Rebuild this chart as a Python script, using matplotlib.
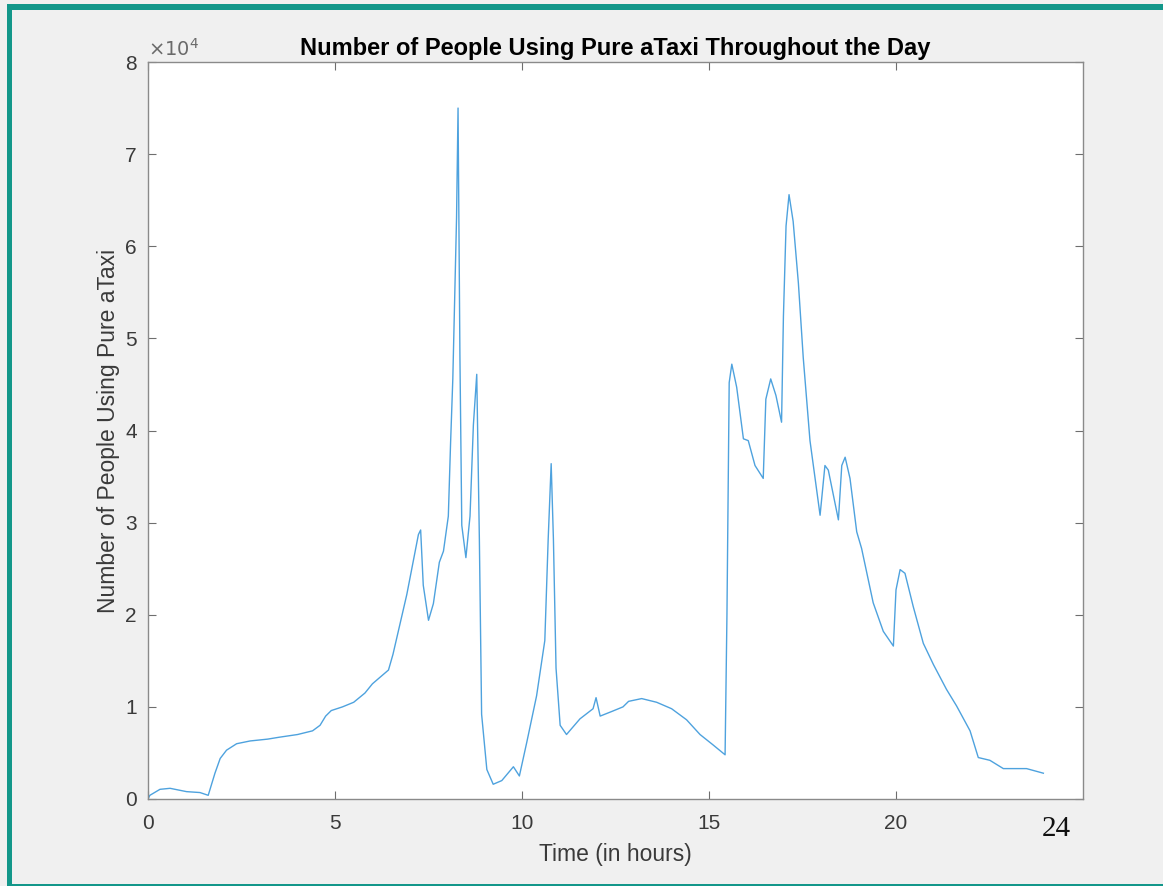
import numpy as np
import matplotlib.pyplot as plt
from matplotlib.patches import Rectangle

# Hours of day and riders
hours = [0.0, 0.05, 0.32, 0.59, 1.03, 1.39, 1.61, 1.79, 1.93, 2.10, 2.37, 2.73,
         3.2, 3.5, 4.0, 4.4, 4.6, 4.75, 4.9, 5.2, 5.5, 5.8, 6.0, 6.2, 6.43,
         6.55, 6.92, 7.23, 7.29, 7.36, 7.50, 7.63, 7.79, 7.90, 8.03, 8.09, 8.15,
         8.25, 8.29, 8.34, 8.39, 8.50, 8.61, 8.70, 8.79, 8.86, 8.92, 9.06, 9.23,
         9.46, 9.77, 9.93, 10.13, 10.39, 10.61, 10.70, 10.78, 10.84, 10.91,
         11.02, 11.19, 11.55, 11.9, 11.98, 12.09, 12.4, 12.7, 12.85, 13.2, 13.6,
         14.0, 14.4, 14.76, 15.1, 15.43, 15.48, 15.54, 15.61, 15.74, 15.92,
         16.05, 16.23, 16.45, 16.52, 16.65, 16.79, 16.94, 16.99, 17.06, 17.14,
         17.25, 17.39, 17.52, 17.70, 17.97, 18.10, 18.19, 18.46, 18.55, 18.64,
         18.77, 18.95, 19.08, 19.39, 19.66, 19.93, 20.0, 20.11, 20.24, 20.46,
         20.73, 21.0, 21.35, 21.62, 21.98, 22.20, 22.51, 22.87, 23.49, 23.94]
riders = [0, 400, 1050, 1160, 800, 700, 400, 2800, 4400, 5300, 6000, 6300,
          6500, 6700, 7000, 7400, 8000, 9000, 9600, 10000, 10500, 11500, 12500,
          13200, 14000, 15700, 22200, 28700, 29200, 23200, 19400, 21200, 25700,
          26900, 30700, 38600, 45600, 63100, 75000, 48100, 29700, 26200, 30700,
          40600, 46100, 28200, 9200, 3200, 1600, 2000, 3500, 2500, 6200, 11200,
          17200, 28200, 36400, 28200, 14200, 8000, 7000, 8700, 9800, 11000,
          9000, 9500, 10000, 10600, 10900, 10500, 9800, 8600, 7000, 5900, 4800,
          20000, 45200, 47200, 44700, 39100, 38900, 36200, 34800, 43400, 45600,
          43800, 40900, 52400, 62200, 65600, 62700, 56000, 47900, 38900, 30800,
          36200, 35700, 30300, 36200, 37100, 34800, 29000, 27200, 21300, 18200,
          16600, 22700, 24900, 24500, 20900, 16900, 14600, 11900, 10100, 7400,
          4500, 4200, 3300, 3300, 2800]

x_ticks = [0, 5, 10, 15, 20]
y_ticks = [0, 1e4, 2e4, 3e4, 4e4, 5e4, 6e4, 7e4, 8e4]
y_tick_labels = ["0", "1", "2", "3", "4", "5", "6", "7", "8"]

plt.rcParams.update({
    "font.family": ["Liberation Sans", "DejaVu Sans"],
    "font.size": 11,
})

W, H = 1163, 886
fig = plt.figure(figsize=(W / 100, H / 100), dpi=100)
fig.patch.set_facecolor("#f0f0f0")

# teal frame around the slide
teal = "#13978a"
fig.add_artist(Rectangle((7 / W, 0), 5 / W, 1 - 4 / H, transform=fig.transFigure,
                         facecolor=teal, edgecolor="none"))
fig.add_artist(Rectangle((7 / W, 1 - 10 / H), 1, 6 / H, transform=fig.transFigure,
                         facecolor=teal, edgecolor="none"))
fig.add_artist(Rectangle((7 / W, 0), 1, 2 / H, transform=fig.transFigure,
                         facecolor=teal, edgecolor="none"))

ax = fig.add_axes([148 / W, 1 - 799 / H, (1083 - 148) / W, (799 - 62) / H])
ax.set_facecolor("white")
ax.plot(hours, riders, color="#4ea2de", linewidth=1.0)

ax.set_xlim(0, 25)
ax.set_ylim(0, 8e4)
ax.set_xticks(x_ticks)
ax.set_yticks(y_ticks)
ax.set_yticklabels(y_tick_labels)
tick_grey = "#3a3a3a"
ax.tick_params(direction="in", top=True, right=True, length=6, width=0.8,
               colors="#6e6e6e", labelcolor=tick_grey, labelsize=15)
ax.tick_params(axis="x", pad=11)
ax.tick_params(axis="y", pad=8)
for s in ax.spines.values():
    s.set_color("#8a8a8a")
    s.set_linewidth(1.0)

ax.text(0.0, 1.003, r"$\times10^{4}$", transform=ax.transAxes, ha="left",
        va="bottom", fontsize=14, color="#6a6a6a")
ax.set_title("Number of People Using Pure aTaxi Throughout the Day",
             fontsize=17, fontweight="bold", pad=5)
ax.set_xlabel("Time (in hours)", fontsize=16.5, color=tick_grey, labelpad=7)
ax.set_ylabel("Number of People Using Pure aTaxi", fontsize=16.5,
              color=tick_grey, labelpad=4)

fig.text(1056 / W, 1 - 829 / H, "24", fontsize=21, family="Liberation Serif",
         ha="center", va="center", color="#111111")

fig.savefig("out.png", dpi=100, facecolor=fig.get_facecolor())
